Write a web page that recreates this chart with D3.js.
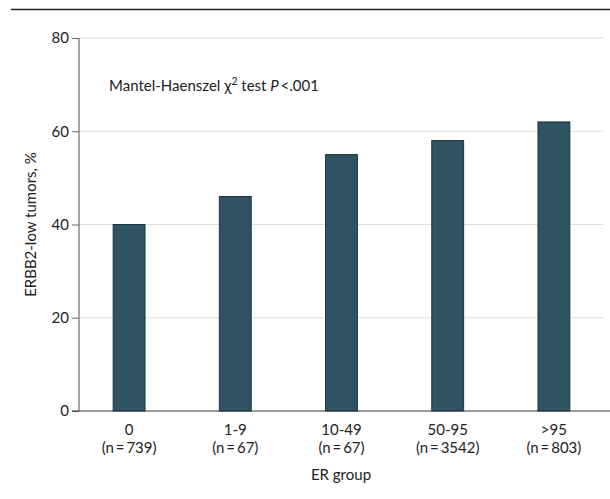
<!DOCTYPE html>
<html><head><meta charset="utf-8">
<script src="https://cdn.jsdelivr.net/npm/d3@7"></script>
<style>body{margin:0;background:#fff}svg{display:block}text{font-family:Lato,"Noto Sans",sans-serif;fill:#222}</style>
</head><body><svg id="c" width="610" height="499"></svg>
<script>
const categories = ["0","1-9","10-49","50-95",">95"];
const counts = ["(n=739)","(n=67)","(n=67)","(n=3542)","(n=803)"];
const values = [40, 46, 55, 58, 62];
const yTicks = [0, 20, 40, 60, 80];

const svg = d3.select("#c");
const x = d3.scaleBand().domain(categories).range([76, 607]).paddingInner(0.7).paddingOuter(0.35);
const y = d3.scaleLinear().domain([0, 80]).range([411, 38]);
const fs = 15;

svg.append("line").attr("x1",11).attr("x2",610).attr("y1",9.5).attr("y2",9.5).attr("stroke","#222").attr("stroke-width",1.5);

// gridlines
svg.append("g").selectAll("line").data(yTicks.filter(d=>d>0)).join("line")
  .attr("x1",79).attr("x2",603).attr("y1",d=>y(d)).attr("y2",d=>y(d))
  .attr("stroke","#dedede").attr("stroke-width",1);

// y axis
const ya = svg.append("g").attr("transform","translate(79,0)")
  .call(d3.axisLeft(y).tickValues(yTicks).tickSize(7).tickPadding(3).tickFormat(d3.format("d")));
ya.select(".domain").attr("stroke","#888").attr("stroke-width",1.5).attr("d","M0,"+y(80)+"V"+y(0));
ya.selectAll(".tick line").attr("stroke","#666");
ya.selectAll("text").attr("font-size",fs).attr("font-family","Lato").attr("fill","#222");

// bars
svg.append("g").selectAll("rect").data(values).join("rect")
  .attr("x",(d,i)=>x(categories[i])).attr("width",x.bandwidth())
  .attr("y",d=>y(d)).attr("height",d=>y(0)-y(d))
  .attr("fill","#2f5362").attr("stroke","#1e3640").attr("stroke-width",1);

// baseline
svg.append("line").attr("x1",72).attr("x2",610).attr("y1",y(0)).attr("y2",y(0)).attr("stroke","#333").attr("stroke-width",1.2);

// x labels
const xl = svg.append("g").selectAll("text").data(categories).join("text")
  .attr("x",d=>x(d)+x.bandwidth()/2).attr("text-anchor","middle").attr("font-size",fs);
xl.append("tspan").attr("x",d=>x(d)+x.bandwidth()/2).attr("y",435).text(d=>d);
xl.append("tspan").attr("x",d=>x(d)+x.bandwidth()/2).attr("y",453).text((d,i)=>counts[i].replace(/=/,"\u2009=\u2009"));

svg.append("text").attr("x",341).attr("y",480).attr("text-anchor","middle").attr("font-size",fs).text("ER group");
svg.append("text").attr("transform","translate(36,"+y(40)+") rotate(-90)").attr("text-anchor","middle").attr("font-size",fs).text("ERBB2-low tumors, %");

const ann = svg.append("text").attr("x",109).attr("y",91).attr("font-size",fs);
ann.append("tspan").text("Mantel-Haenszel \u03C7");
ann.append("tspan").attr("dy",-6).attr("font-size",10.5).text("2");
ann.append("tspan").attr("dy",6).text(" test ");
ann.append("tspan").attr("font-style","italic").text("P");
ann.append("tspan").text("\u2009<.001");
</script></body></html>
